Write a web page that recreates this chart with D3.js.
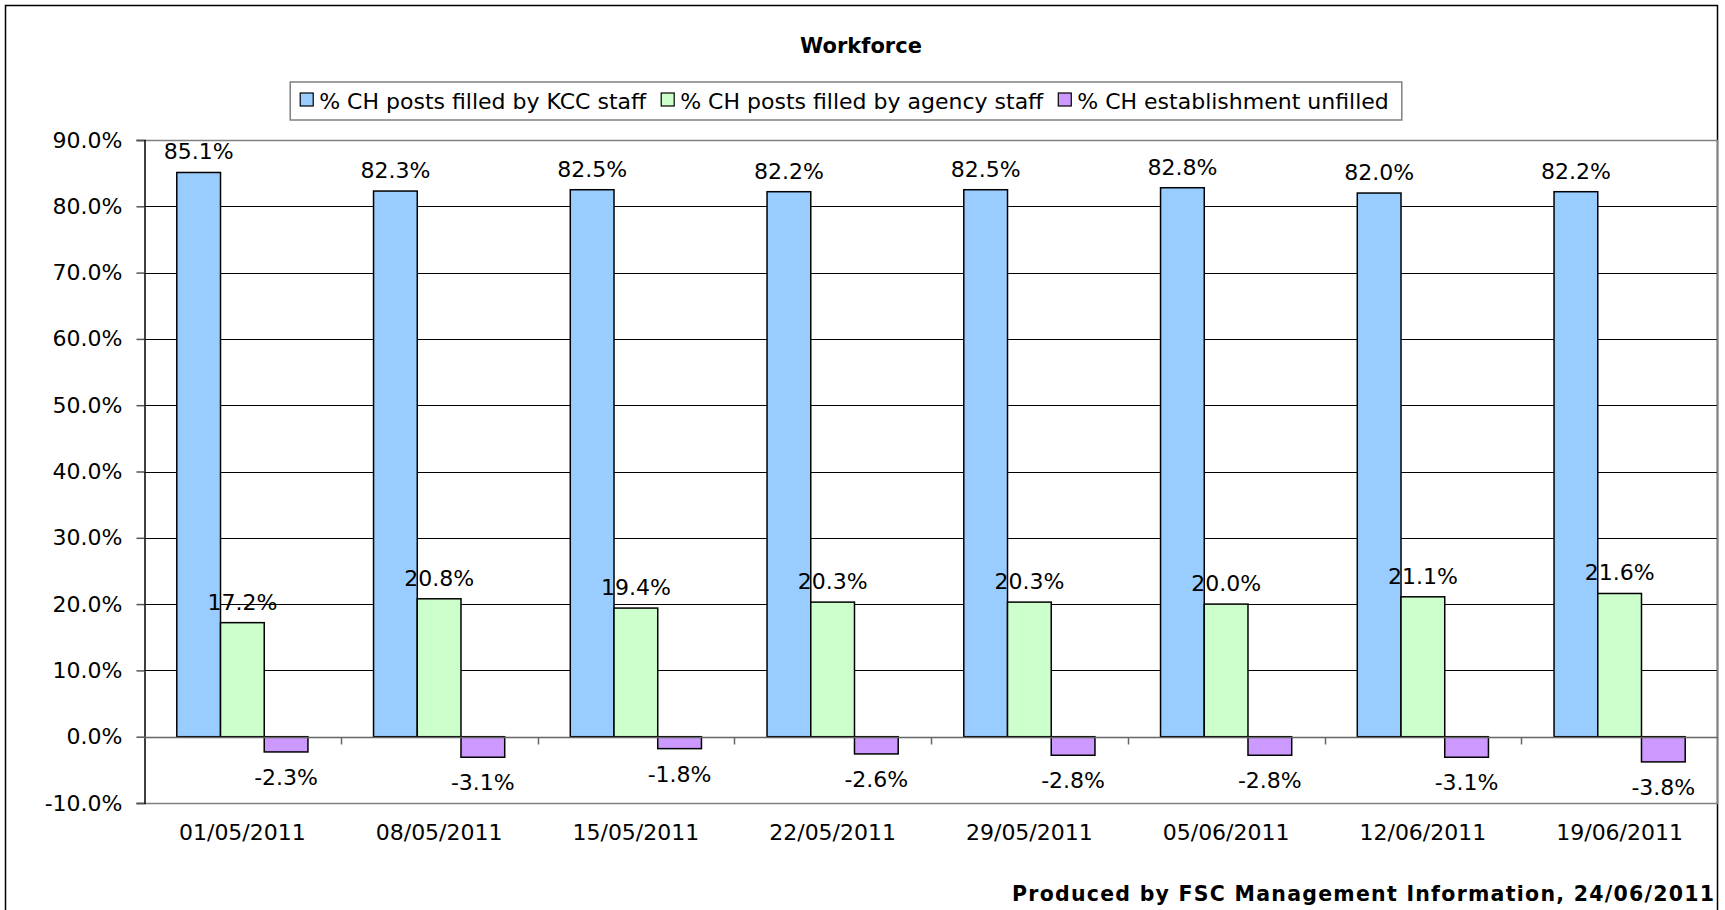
<!DOCTYPE html>
<html>
<head>
<meta charset="utf-8">
<script src="https://cdn.jsdelivr.net/npm/d3@7"></script>
<style>
  body { margin: 0; background: #fff; }
  text { font-family: "DejaVu Sans", Verdana, sans-serif; fill: #000; }
</style>
</head>
<body>
<div id="chart"></div>
<script>
// svg dimensions
let svgWidth = 1725;
let svgHeight = 910;

// data
let categories = ["01/05/2011", "08/05/2011", "15/05/2011", "22/05/2011",
                  "29/05/2011", "05/06/2011", "12/06/2011", "19/06/2011"];
let seriesNames = ["% CH posts filled by KCC staff",
                   "% CH posts filled by agency staff",
                   "% CH establishment unfilled"];
let kccStaff    = [85.1, 82.3, 82.5, 82.2, 82.5, 82.8, 82.0, 82.2];
let agencyStaff = [17.2, 20.8, 19.4, 20.3, 20.3, 20.0, 21.1, 21.6];
let unfilled    = [-2.3, -3.1, -1.8, -2.6, -2.8, -2.8, -3.1, -3.8];
let yTicks = [-10, 0, 10, 20, 30, 40, 50, 60, 70, 80, 90];

let seriesColors = ["#99ccff", "#ccffcc", "#cc99ff"];

// plot area
let plot = { left: 144, right: 1718, top: 140, bottom: 803 };

let svg = d3.select("#chart")
  .append("svg")
  .attr("width", svgWidth)
  .attr("height", svgHeight);

// outer chart border
svg.append("rect")
  .attr("x", 5.5).attr("y", 5.5)
  .attr("width", 1712).attr("height", 940)
  .attr("fill", "#fff")
  .attr("stroke", "#000")
  .attr("stroke-width", 1.5);

let xScale = d3.scaleBand()
  .domain(categories)
  .range([plot.left, plot.right])
  .paddingInner(0)
  .paddingOuter(0);

let yScale = d3.scaleLinear()
  .domain([-10, 90])
  .range([plot.bottom, plot.top]);

let fmt = (v) => v.toFixed(1) + "%";

/********************************************/
// gridlines
svg.append("g")
  .selectAll("line")
  .data(yTicks.filter((t) => t > 0 && t < 90))
  .enter()
  .append("line")
  .attr("x1", plot.left).attr("x2", plot.right)
  .attr("y1", (d) => Math.round(yScale(d)) + 0.5)
  .attr("y2", (d) => Math.round(yScale(d)) + 0.5)
  .attr("stroke", "#000")
  .attr("stroke-width", 1);

// plot area border (top, right, bottom)
svg.append("path")
  .attr("d", `M${plot.left},${plot.top + 0.5}H${plot.right - 0.5}V${plot.bottom + 0.5}H${plot.left}`)
  .attr("fill", "none")
  .attr("stroke", "#808080")
  .attr("stroke-width", 1.5);

/********************************************/
// bars
let allSeries = [kccStaff, agencyStaff, unfilled];
let bw = xScale.bandwidth() / 4.5;

let rows = [];
allSeries.forEach(function (values, s) {
  values.forEach(function (v, i) {
    rows.push({ s: s, cat: categories[i], v: v });
  });
});

let barX = (d) => xScale(d.cat) + 0.75 * bw + d.s * bw;

svg.append("g")
  .selectAll("rect")
  .data(rows)
  .enter()
  .append("rect")
  .attr("x", (d) => barX(d))
  .attr("y", (d) => yScale(Math.max(0, d.v)))
  .attr("width", bw)
  .attr("height", (d) => Math.abs(yScale(d.v) - yScale(0)))
  .attr("fill", (d) => seriesColors[d.s])
  .attr("stroke", "#000")
  .attr("stroke-width", 1.5);

/********************************************/
// axes
let yAxis = d3.axisLeft(yScale)
  .tickValues(yTicks)
  .tickSize(8)
  .tickPadding(14)
  .tickFormat((d) => d.toFixed(1) + "%");

let yAxisG = svg.append("g")
  .attr("transform", `translate(${plot.left + 0.5},0)`)
  .call(yAxis);
yAxisG.select(".domain").attr("stroke", "#000").attr("stroke-width", 1.5);
yAxisG.selectAll(".tick line").attr("stroke", "#555").attr("stroke-width", 1.5);
yAxisG.selectAll(".tick text")
  .attr("font-size", "22px")
  .attr("font-family", "DejaVu Sans, Verdana, sans-serif")
  .attr("fill", "#000");

// category axis at zero, ticks on band boundaries
let zeroY = Math.round(yScale(0)) + 0.5;
svg.append("line")
  .attr("x1", plot.left).attr("x2", plot.right)
  .attr("y1", zeroY).attr("y2", zeroY)
  .attr("stroke", "#666")
  .attr("stroke-width", 1.5);

let bounds = categories.map((c) => xScale(c)).concat([plot.right]);
svg.append("g")
  .selectAll("line")
  .data(bounds.slice(1, -1))
  .enter()
  .append("line")
  .attr("x1", (d) => Math.round(d) + 0.5)
  .attr("x2", (d) => Math.round(d) + 0.5)
  .attr("y1", zeroY).attr("y2", zeroY + 7)
  .attr("stroke", "#666")
  .attr("stroke-width", 1.5);

svg.append("g")
  .selectAll("text")
  .data(categories)
  .enter()
  .append("text")
  .attr("x", (d) => xScale(d) + xScale.bandwidth() / 2)
  .attr("y", 840)
  .attr("text-anchor", "middle")
  .attr("font-size", "22px")
  .text((d) => d);

/********************************************/
// value labels
svg.append("g")
  .selectAll("text")
  .data(rows)
  .enter()
  .append("text")
  .attr("x", (d) => barX(d) + bw / 2)
  .attr("y", (d) => d.v >= 0 ? yScale(d.v) - 13 : yScale(d.v) + 33)
  .attr("text-anchor", "middle")
  .attr("font-size", "22px")
  .text((d) => fmt(d.v));

/********************************************/
// title
svg.append("text")
  .attr("x", 861)
  .attr("y", 53)
  .attr("text-anchor", "middle")
  .attr("font-size", "21px")
  .attr("font-weight", "bold")
  .text("Workforce");

// legend
let legendG = svg.append("g");
let legendBox = legendG.append("rect")
  .attr("fill", "#fff")
  .attr("stroke", "#808080")
  .attr("stroke-width", 1.5);

let lx = 0;
seriesNames.forEach(function (name, i) {
  legendG.append("rect")
    .attr("x", lx).attr("y", 93)
    .attr("width", 13).attr("height", 13)
    .attr("fill", seriesColors[i])
    .attr("stroke", "#000")
    .attr("stroke-width", 1.2);
  let t = legendG.append("text")
    .attr("x", lx + 19)
    .attr("y", 109)
    .attr("font-size", "22px")
    .text(name);
  lx += 19 + t.node().getComputedTextLength() + 15;
});
let contentW = lx - 15;
let boxW = contentW + 10 + 13;
let boxLeft = 846 - boxW / 2;
legendBox
  .attr("x", -10).attr("y", 82)
  .attr("width", boxW).attr("height", 38);
legendG.attr("transform", `translate(${boxLeft + 10},0)`);

// footer
svg.append("text")
  .attr("x", 1714)
  .attr("y", 901)
  .attr("text-anchor", "end")
  .attr("font-size", "20.5px")
  .attr("font-weight", "bold")
  .attr("textLength", 702)
  .attr("lengthAdjust", "spacing")
  .text("Produced by FSC Management Information, 24/06/2011");
</script>
</body>
</html>
